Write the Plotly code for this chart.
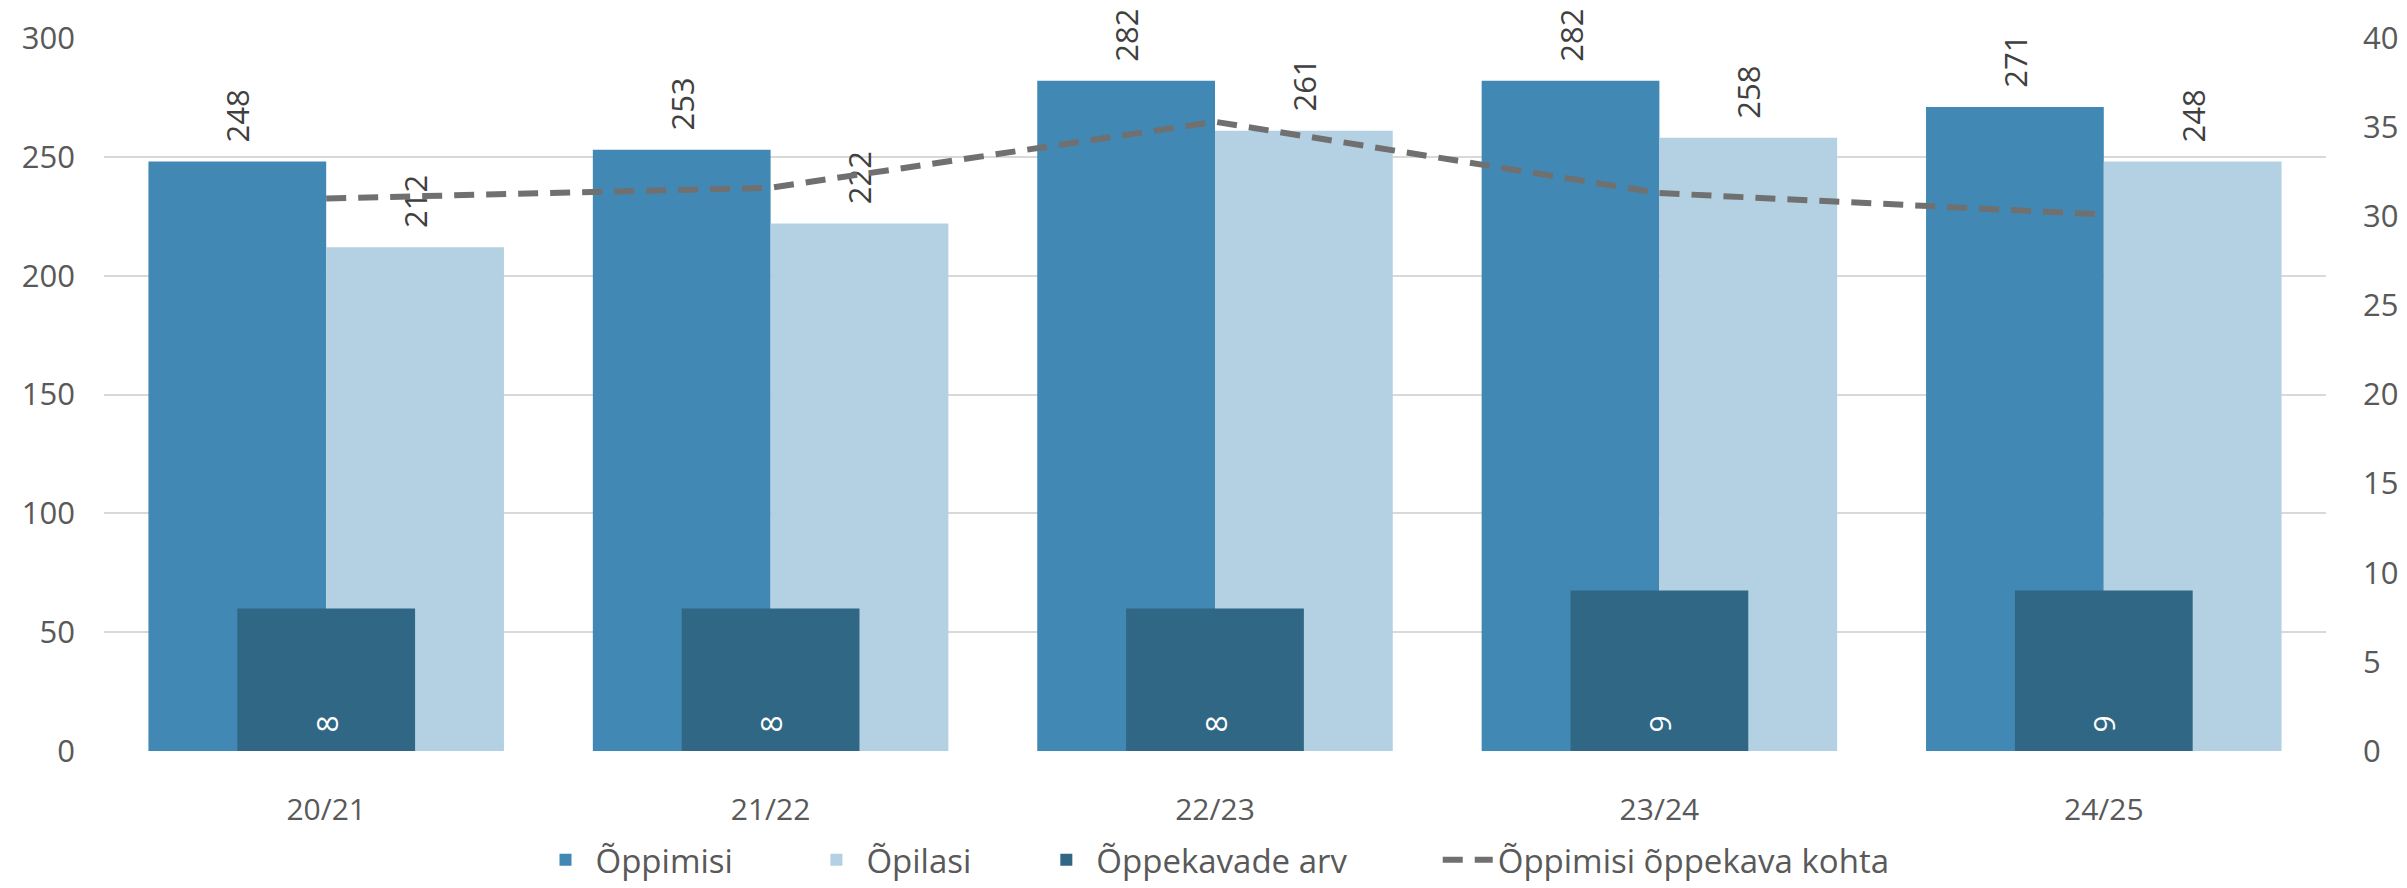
import plotly.graph_objects as go

categories = ["20/21", "21/22", "22/23", "23/24", "24/25"]
oppimisi = [248, 253, 282, 282, 271]
opilasi = [212, 222, 261, 258, 248]
oppekavade_arv = [8, 8, 8, 9, 9]
oppimisi_oppekava_kohta = [31.0, 31.6, 35.3, 31.3, 30.1]

left_ticks = [0, 50, 100, 150, 200, 250, 300]
right_ticks = [0, 5, 10, 15, 20, 25, 30, 35, 40]

FONT = "Open Sans"
TICK_COLOR = "#595959"
LABEL_COLOR = "#404040"
NB = "\u00a0"

fig = go.Figure()

fig.add_trace(go.Bar(
    name="Õppimisi" + NB * 8, x=categories, y=oppimisi,
    width=0.4, offset=-0.4,
    marker=dict(color="#4189b4", line=dict(width=0)),
    text=[NB * 2 + str(v) for v in oppimisi], textposition="outside", textangle=-90,
    textfont=dict(family=FONT, size=31, color=LABEL_COLOR),
    cliponaxis=False,
))
fig.add_trace(go.Bar(
    name="Õpilasi" + NB * 7, x=categories, y=opilasi,
    width=0.4, offset=0.0,
    marker=dict(color="#b3d1e3", line=dict(width=0)),
    text=[NB * 2 + str(v) for v in opilasi], textposition="outside", textangle=-90,
    textfont=dict(family=FONT, size=31, color=LABEL_COLOR),
    cliponaxis=False,
))
fig.add_trace(go.Bar(
    name="Õppekavade arv" + NB * 10, x=categories, y=oppekavade_arv, yaxis="y2",
    width=0.4, offset=-0.2,
    marker=dict(color="#306785", line=dict(width=0)),
    text=[NB * 2 + str(v) for v in oppekavade_arv], textposition="inside",
    insidetextanchor="start", textangle=-90,
    textfont=dict(family=FONT, size=30, color="white"),
))
fig.add_trace(go.Scatter(
    name="Õppimisi õppekava kohta", x=categories, y=oppimisi_oppekava_kohta,
    yaxis="y2", mode="lines",
    line=dict(color="#707070", width=6, dash="20px,12px"),
))

fig.update_layout(
    width=2391, height=880,
    margin=dict(l=96, r=73, t=30, b=137, autoexpand=False),
    paper_bgcolor="white", plot_bgcolor="white",
    barmode="overlay",
    font=dict(family=FONT, size=30, color=TICK_COLOR),
    xaxis=dict(
        type="category", range=[-0.5, 4.5], automargin=False,
        showgrid=False, showline=False, zeroline=False,
        ticks="", ticklabelstandoff=38,
        tickfont=dict(family=FONT, size=30, color=TICK_COLOR),
    ),
    yaxis=dict(
        range=[0, 300], tickvals=left_ticks, automargin=False,
        showgrid=True, gridcolor="#d9d9d9", gridwidth=2,
        zeroline=False, showline=False, ticks="",
        ticklabelstandoff=28,
        tickfont=dict(family=FONT, size=31, color=TICK_COLOR),
    ),
    yaxis2=dict(
        range=[0, 40], tickvals=right_ticks, overlaying="y", side="right",
        automargin=False,
        showgrid=False, zeroline=False, showline=False, ticks="",
        ticklabelstandoff=36,
        tickfont=dict(family=FONT, size=31, color=TICK_COLOR),
    ),
    legend=dict(
        orientation="h", x=0.5, xanchor="center", y=-0.192, yanchor="bottom",
        font=dict(family=FONT, size=33, color=TICK_COLOR),
        itemwidth=50, traceorder="normal",
    ),
    showlegend=True,
)

fig.write_html("out.html")
